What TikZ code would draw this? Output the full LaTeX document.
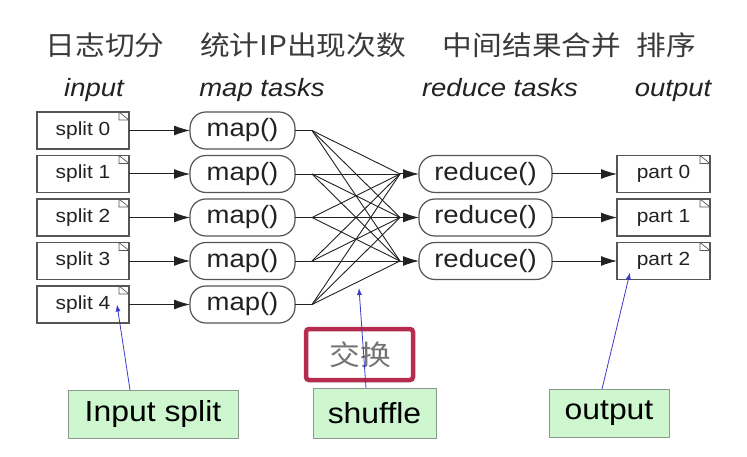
\documentclass[tikz,border=0pt]{standalone}
\usepackage{fontspec}
\setmainfont{Liberation Sans}[FakeStretch=1.1]
\newfontfamily\cjk{Noto Sans CJK SC}[FakeStretch=1.1]
\usetikzlibrary{arrows.meta}
\definecolor{boxgray}{HTML}{555555}
\definecolor{txt}{HTML}{222222}
\definecolor{greenfill}{HTML}{CFF7CF}
\definecolor{greenline}{HTML}{8A9A8A}
\definecolor{crimson}{HTML}{B52C4E}
\definecolor{blueline}{HTML}{3A3ACC}
\definecolor{cjkgray}{HTML}{3A3A3A}
\begin{document}
\begin{tikzpicture}[x=1pt,y=-1pt,
  doc/.style={draw=boxgray, line width=1.2pt, minimum width=92pt, minimum height=37pt,
    inner sep=0pt, outer sep=0pt, text=txt, font=\fontsize{19}{22}\selectfont},
  task/.style={draw=boxgray, line width=1.2pt, rounded corners=16pt, minimum height=37pt,
    inner sep=0pt, outer sep=0pt, text=txt, font=\fontsize{25}{28}\selectfont},
  cjkhead/.style={text=cjkgray, font=\cjk\fontsize{27}{30}\selectfont, inner sep=0pt},
  ithead/.style={anchor=base, text=txt, font=\itshape\fontsize{25}{28}\selectfont, inner sep=0pt},
  flow/.style={draw=txt, line width=1pt, -{Latex[length=16pt,width=10pt]}},
  wire/.style={draw=txt, line width=0.9pt},
  note/.style={draw=greenline, line width=1pt, fill=greenfill, inner sep=0pt, outer sep=0pt,
    text=black, font=\fontsize{29}{32}\selectfont},
  pointer/.style={draw=blueline, line width=0.8pt, -{Latex[length=7pt,width=5pt]}},
  dogear/.style={draw=boxgray, line width=0.7pt}
]
\useasboundingbox[fill=white] (0,0) rectangle (747,457);

% headers
\node[cjkhead] (h1) at (105,45) {日志切分};
\node[cjkhead] (h2) at (303,45) {统计IP出现次数};
\node[cjkhead] (h3) at (532,45) {中间结果合并};
\node[cjkhead] (h4) at (666,45) {排序};
\node[ithead] (l1) at (94,97) {input};
\node[ithead] (l2) at (262,97) {map tasks};
\node[ithead] (l3) at (500,97) {reduce tasks};
\node[ithead] (l4) at (673,97) {output};

% splits and maps
\foreach \i in {0,...,4} {
  \pgfmathsetmacro{\yy}{130.5+43.5*\i}
  \node[doc] (s\i) at (83,\yy) {split \i};
  \node[task, minimum width=105pt] (m\i) at (242.5,\yy) {map()};
  \draw[flow] (s\i.east) -- (m\i.west);
}
% reduces and parts
\foreach \j in {0,1,2} {
  \pgfmathsetmacro{\yy}{174+43.5*\j}
  \node[task, minimum width=133pt] (r\j) at (485.5,\yy) {reduce()};
  \node[doc, minimum width=93pt] (p\j) at (663.5,\yy) {part \j};
  \draw[flow] (r\j.east) -- (p\j.west);
  \coordinate (c\j) at ([xshift=-19pt]r\j.west);
  \draw[flow] (c\j) -- (r\j.west);
}
% dog ears
\foreach \n in {s0,s1,s2,s3,s4,p0,p1,p2} {
  \draw[dogear] ([xshift=-10pt]\n.north east) rectangle ([yshift=-8pt]\n.north east)
                ([xshift=-10pt]\n.north east) -- ([yshift=-8pt]\n.north east);
}
% shuffle
\foreach \i in {0,...,4} {
  \draw[wire] (m\i.east) -- ++(17,0) coordinate (f\i);
}
\foreach \i in {0,...,4} {
  \foreach \j in {0,1,2} {
    \draw[wire] (f\i) -- (c\j);
  }
}

% red box
\node[draw=crimson, line width=4.5pt, rounded corners=3pt, fill=white,
      minimum width=107pt, minimum height=51pt, inner sep=0pt] (xb) at (359.5,354.5) {};
\node[text=gray!90!black, font=\cjk\fontsize{28}{30}\selectfont] (xt) at (360,355) {交换};

% notes
\node[note, minimum width=170pt, minimum height=48pt] (gi) at (153,414) {Input split};
\node[note, minimum width=123pt, minimum height=50pt] (gs) at (374.5,413) {shuffle};
\node[note, minimum width=120pt, minimum height=48pt] (go) at (609,413) {output};

\coordinate (ts) at (359,288);
\draw[pointer] ([xshift=-23pt]gi.north) -- ([xshift=-12pt]s4.east);
\draw[pointer] ([xshift=-8.5pt]gs.north) -- (ts);
\draw[pointer] ([xshift=-7pt]go.north) -- ([xshift=13pt,yshift=7pt]p2.south west);
\end{tikzpicture}
\end{document}
